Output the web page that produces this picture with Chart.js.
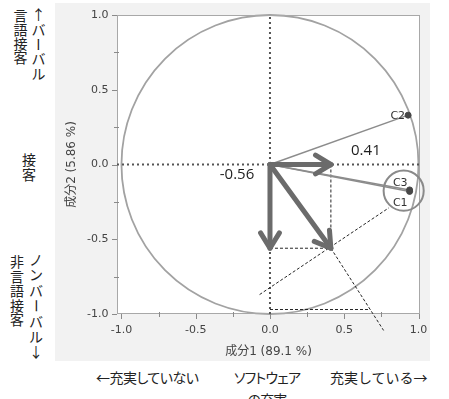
<!DOCTYPE html>
<html>
<head>
<meta charset="utf-8">
<script src="https://cdn.jsdelivr.net/npm/chart.js@4.4.1/dist/chart.umd.min.js"></script>
<style>
  html, body { margin: 0; padding: 0; background: #fff; }
  body { width: 449px; height: 399px; overflow: hidden; position: relative;
         font-family: "Noto Sans CJK JP", sans-serif; color: #222; }
  #panel { position: absolute; left: 55px; top: 3px; width: 375px; height: 358px; background: #f2f2f2; }
  #panel canvas { display: block; }
  .col { position: absolute; width: 15px; font-size: 14px; }
  .col span { display: block; text-align: center; white-space: nowrap; }
  .col span.bar { transform: rotate(90deg); }
  .ht { position: absolute; font-size: 14px; line-height: 22px; white-space: nowrap; }
  .palt { font-feature-settings: "palt" 1; }
</style>
</head>
<body>
<div id="panel"><canvas id="chart" width="375" height="358"></canvas></div>

<div class="col" data-step="14" style="left:13px;top:8px">言語接客</div>
<div class="col" data-step="14.8" style="left:31px;top:7px">↑バーバル</div>
<div class="col" data-step="14.5" style="left:21.5px;top:152px">接客</div>
<div class="col" data-step="14.6" style="left:9.5px;top:254px">非言語接客</div>
<div class="col" data-step="15.4" style="left:28.5px;top:252px">ノンバーバル↓</div>

<div class="ht palt" style="left:96px;top:366px;letter-spacing:-0.5px">←充実していない</div>
<div class="ht palt" style="left:222px;top:366px;width:90px;text-align:center;letter-spacing:-0.8px">ソフトウェア<br>の充実</div>
<div class="ht" style="left:330px;top:366px">充実している→</div>

<script>
// Stack the side captions one character per line (vertical Japanese setting)
document.querySelectorAll('.col').forEach(el => {
  const text = el.textContent;
  const step = parseFloat(el.dataset.step);
  el.textContent = '';
  for (const ch of text) {
    const s = document.createElement('span');
    s.textContent = ch;
    s.style.height = step + 'px';
    s.style.lineHeight = step + 'px';
    if (ch === 'ー') s.className = 'bar';
    el.appendChild(s);
  }
});

// Variable loadings on the first two components
const varNames = ['C1', 'C2', 'C3'];
const comp1 = [0.94, 0.93, 0.94];
const comp2 = [-0.18, 0.33, -0.17];

// Composite effect vector and its components
const effectX = 0.41;
const effectY = -0.56;

// Axis ticks
const majorTicks = [-1.0, -0.5, 0.0, 0.5, 1.0];
const minorTicks = [-0.75, -0.25, 0.25, 0.75];
const xRange = [-1.03, 1.01];
const yRange = [-1.0, 1.0];

// Construction guides (start point, end point)
const guideToC1 = [[-0.07, -0.87], [0.80, -0.29]];
const guidePerp = [[0.41, -0.56], [0.765, -1.11]];
const guideBase = [[0.0, -0.97], [0.675, -0.97]];

// Highlight ring around the C1/C3 cluster (centre and radius in axis units)
const ring = { x: 0.90, y: -0.175, r: 0.135 };

const seg = (a, b) => [{ x: a[0], y: a[1] }, { x: b[0], y: b[1] }];
const lineSet = (data, color, width, dash, extra) => Object.assign({
  data, showLine: true, fill: false, borderColor: color, borderWidth: width,
  borderDash: dash || [], pointRadius: 0, pointHoverRadius: 0, tension: 0, clip: false
}, extra || {});

const arrows = [[effectX, 0], [0, effectY], [effectX, effectY]];

const datasets = [];
// heavy arrows first so they sit on top
arrows.forEach(a => datasets.push(lineSet(seg([0, 0], a), '#6b6b6b', 5, null, { borderCapStyle: 'round' })));
// loading rays with end markers
varNames.forEach((n, i) => datasets.push(lineSet(seg([0, 0], [comp1[i], comp2[i]]), '#8c8c8c', 1.5, null, {
  pointRadius: [0, 3], pointBackgroundColor: '#474747', pointBorderColor: '#474747', pointBorderWidth: 1
})));
// dashed construction lines
[
  seg([0, effectY], [effectX, effectY]),
  seg([effectX, 0], [effectX, effectY]),
  seg(guideToC1[0], guideToC1[1]),
  seg(guidePerp[0], guidePerp[1]),
  seg(guideBase[0], guideBase[1])
].forEach(d => datasets.push(lineSet(d, '#262626', 1, [3, 2])));
// dotted zero lines
datasets.push(lineSet(seg([xRange[0], 0], [xRange[1], 0]), '#555', 2, [2, 3], { borderCapStyle: 'butt' }));
datasets.push(lineSet(seg([0, yRange[0]], [0, yRange[1]]), '#555', 2, [2, 3], { borderCapStyle: 'butt' }));

const allTicks = majorTicks.concat(minorTicks).sort((a, b) => a - b);
const isMajor = v => majorTicks.some(m => Math.abs(m - v) < 1e-9);
const tickFont = { family: '"DejaVu Sans", "Noto Sans CJK JP", sans-serif', size: 11 };
const titleFont = { family: '"DejaVu Sans", "Noto Sans CJK JP", sans-serif', size: 12 };

const decor = {
  id: 'decor',
  beforeDatasetsDraw(chart) {
    const { ctx, chartArea: a, scales: { x, y } } = chart;
    ctx.save();
    ctx.fillStyle = '#ffffff';
    ctx.fillRect(a.left, a.top, a.right - a.left, a.bottom - a.top);

    // unit correlation circle
    const cx = x.getPixelForValue(0), cy = y.getPixelForValue(0);
    const rx = x.getPixelForValue(1) - cx, ry = cy - y.getPixelForValue(1);
    ctx.beginPath();
    ctx.ellipse(cx, cy, rx, ry, 0, 0, Math.PI * 2);
    ctx.strokeStyle = '#a2a2a2';
    ctx.lineWidth = 1.8;
    ctx.stroke();

    // frame
    ctx.strokeStyle = '#a8a8a8';
    ctx.lineWidth = 1;
    ctx.strokeRect(a.left + 0.5, a.top + 0.5, a.right - a.left - 1, a.bottom - a.top - 1);

    // tick marks
    ctx.strokeStyle = '#8a8a8a';
    ctx.beginPath();
    allTicks.forEach(v => {
      const px = Math.round(x.getPixelForValue(v)) + 0.5;
      const py = Math.round(y.getPixelForValue(v)) + 0.5;
      if (isMajor(v)) {
        ctx.moveTo(px, a.bottom); ctx.lineTo(px, a.bottom + 5);
        ctx.moveTo(a.left, py); ctx.lineTo(a.left - 5, py);
      } else {
        ctx.moveTo(px, a.bottom - 2); ctx.lineTo(px, a.bottom + 3);
        ctx.moveTo(a.left + 2, py); ctx.lineTo(a.left - 3, py);
      }
    });
    ctx.stroke();
    ctx.restore();
  },
  afterDatasetsDraw(chart) {
    const { ctx, scales: { x, y } } = chart;
    ctx.save();
    const ox = x.getPixelForValue(0), oy = y.getPixelForValue(0);

    // open chevron heads on the heavy arrows
    ctx.strokeStyle = '#6b6b6b';
    ctx.lineWidth = 5;
    ctx.lineCap = 'round';
    ctx.lineJoin = 'round';
    arrows.forEach(([vx, vy]) => {
      const tx = x.getPixelForValue(vx), ty = y.getPixelForValue(vy);
      const ang = Math.atan2(ty - oy, tx - ox);
      const L = 18, phi = 0.55;
      ctx.beginPath();
      ctx.moveTo(tx - L * Math.cos(ang - phi), ty - L * Math.sin(ang - phi));
      ctx.lineTo(tx, ty);
      ctx.lineTo(tx - L * Math.cos(ang + phi), ty - L * Math.sin(ang + phi));
      ctx.stroke();
    });

    // ring around the C1/C3 cluster
    const rcx = x.getPixelForValue(ring.x), rcy = y.getPixelForValue(ring.y);
    const rr = x.getPixelForValue(ring.r) - x.getPixelForValue(0);
    ctx.beginPath();
    ctx.arc(rcx, rcy, rr, 0, Math.PI * 2);
    ctx.strokeStyle = '#8a8a8a';
    ctx.lineWidth = 2;
    ctx.stroke();

    // variable labels
    const labelShift = { C1: [-2, 12], C2: [-3, 1], C3: [-2, -7] };
    ctx.font = '11px "DejaVu Sans", sans-serif';
    ctx.fillStyle = '#333';
    ctx.textAlign = 'right';
    ctx.textBaseline = 'middle';
    varNames.forEach((n, i) => {
      const px = x.getPixelForValue(comp1[i]), py = y.getPixelForValue(comp2[i]);
      const [dx, dy] = labelShift[n];
      ctx.fillText(n, px + dx, py + dy);
    });

    // component values of the effect vector
    ctx.font = '15px "Open Sans", "Noto Sans", sans-serif';
    ctx.fillStyle = '#1e1e1e';
    ctx.textAlign = 'center';
    ctx.fillText(effectX.toFixed(2), x.getPixelForValue(effectX) + 35, oy - 14);
    ctx.fillText(effectY.toFixed(2), ox - 33, oy + 10);
    ctx.restore();
  }
};

new Chart(document.getElementById('chart'), {
  type: 'scatter',
  data: { datasets },
  options: {
    responsive: false,
    animation: false,
    events: [],
    layout: { padding: { top: 12, right: 10, left: 0, bottom: 0 } },
    plugins: { legend: { display: false }, tooltip: { enabled: false } },
    scales: {
      x: {
        type: 'linear', min: xRange[0], max: xRange[1],
        afterBuildTicks: s => { s.ticks = allTicks.map(v => ({ value: v })); },
        afterFit: s => { s.height = 47; s.paddingLeft = 0; s.paddingRight = 0; },
        grid: { display: false, drawTicks: false },
        border: { display: false },
        ticks: { autoSkip: false, maxRotation: 0, padding: 10, color: '#444', font: tickFont,
                 callback: v => isMajor(v) ? v.toFixed(1) : '' },
        title: { display: true, text: '成分1 (89.1 %)', color: '#444', font: titleFont, padding: { top: 0, bottom: 1.8 } }
      },
      y: {
        type: 'linear', min: yRange[0], max: yRange[1],
        afterBuildTicks: s => { s.ticks = allTicks.map(v => ({ value: v })); },
        afterFit: s => { s.width = 62; s.paddingTop = 0; s.paddingBottom = 0; },
        grid: { display: false, drawTicks: false },
        border: { display: false },
        ticks: { autoSkip: false, padding: 8.5, color: '#444', font: tickFont,
                 callback: v => isMajor(v) ? v.toFixed(1) : '' },
        title: { display: true, text: '成分2 (5.86 %)', color: '#444', font: titleFont, padding: { top: 9.3, bottom: 0 } }
      }
    }
  },
  plugins: [decor]
});
</script>
</body>
</html>
